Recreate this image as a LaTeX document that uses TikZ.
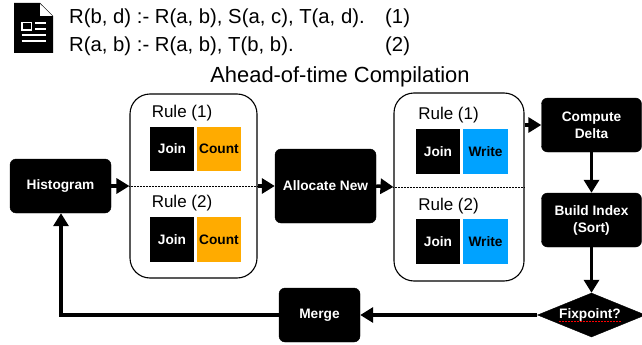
\documentclass[tikz,border=0pt]{standalone}
\usepackage{fontspec}
\setmainfont{Liberation Sans}
\usetikzlibrary{arrows.meta,shapes.geometric}
\tikzset{
    stepbox/.style={draw=black,fill=black,rectangle,rounded corners=6pt,text=white,align=center,inner sep=0pt,font=\fontsize{13.7}{17}\selectfont\bfseries},
    joinbox/.style={fill=black,rectangle,minimum size=44.5pt,inner sep=0pt,text=white,font=\fontsize{13.7}{16}\selectfont\bfseries},
    countbox/.style={joinbox,fill=countorange,text=black},
    writebox/.style={joinbox,fill=writeblue,text=black},
    rulebox/.style={draw=black,line width=1.1pt,rectangle,rounded corners=20pt,inner sep=0pt},
    flow/.style={line width=3.5pt,-{Triangle[length=13pt,width=15pt]}},
    ruletext/.style={font=\fontsize{17}{20}\selectfont},
    datalog/.style={anchor=base west,inner sep=0pt,font=\fontsize{20.3}{24}\selectfont},
}
\definecolor{countorange}{HTML}{FFAB00}
\definecolor{writeblue}{HTML}{00A2FF}
\begin{document}
\begin{tikzpicture}[x=1pt,y=-1pt]
        \useasboundingbox (0,0) rectangle (642,345);
        %% Document icon
        \fill (14,3) -- (40,3) -- (53,16) -- (53,53) -- (14,53) -- cycle;
        \fill[white] (40,3.8) -- (40,16) -- (52.5,16) -- cycle;
        \draw[white,line width=1.3pt] (22,22.5) rectangle (31.5,30);
        \draw[white,line width=1.6pt] (35,23) -- (46,23);
        \draw[white,line width=1.6pt] (35,29) -- (46,29);
        \draw[white,line width=1.6pt] (21.5,35) -- (46,35);
        \draw[white,line width=1.6pt] (21.5,41) -- (46,41);
        %% Rules and title
        \node[datalog] (L1) at (69,24) {R(b, d) :- R(a, b), S(a, c), T(a, d).};
        \node[datalog] (N1) at (385,24) {(1)};
        \node[datalog] (L2) at (69,52) {R(a, b) :- R(a, b), T(b, b).};
        \node[datalog] (N2) at (385,52) {(2)};
        \node[font=\fontsize{21.9}{24}\selectfont,inner sep=0pt] (Title) at (340,77) {Ahead-of-time Compilation};
        %% Nodes
        \node[stepbox,minimum width=101pt,minimum height=54pt] (Histogram) at (60.5,186) {Histogram};
        \node[rulebox,minimum width=127pt,minimum height=184pt] (CountRules) at (193.5,186) {};
        \node[stepbox,minimum width=101pt,minimum height=74pt] (Allocate) at (325.5,186) {Allocate New};
        \node[rulebox,minimum width=130pt,minimum height=188pt] (WriteRules) at (459,187) {};
        \node[stepbox,minimum width=100pt,minimum height=54pt] (Delta) at (591.5,125) {Compute\\Delta};
        \node[stepbox,minimum width=100pt,minimum height=54pt] (Index) at (591.5,220) {Build Index\\(Sort)};
        \node[draw=black,fill=black,diamond,aspect=2.39,inner sep=0pt,minimum width=108pt,minimum height=44pt] (Fixpoint) at (591.5,315) {};
        \node[text=white,inner sep=0pt,font=\fontsize{13.7}{16}\selectfont\bfseries] (FixpointText) at (590,315) {Fixpoint?};
        \node[stepbox,minimum width=81pt,minimum height=54pt] (Merge) at (319.5,315) {Merge};
        \coordinate (Corner) at (61,315);
        %% Rule boxes
        \node[ruletext] (RuleA) at (182,113) {Rule (1)};
        \node[joinbox] (JoinA) at (172,149) {Join};
        \node[countbox] (CountA) at (219,149) {Count};
        \node[ruletext] (RuleB) at (182,203) {Rule (2)};
        \node[joinbox] (JoinB) at (172,239.5) {Join};
        \node[countbox] (CountB) at (219,239.5) {Count};
        \node[ruletext] (RuleC) at (448.5,115) {Rule (1)};
        \node[joinbox] (JoinC) at (438,151.5) {Join};
        \node[writebox] (WriteC) at (485.5,151.5) {Write};
        \node[ruletext] (RuleD) at (448.5,206) {Rule (2)};
        \node[joinbox] (JoinD) at (438,241.5) {Join};
        \node[writebox] (WriteD) at (485.5,241.5) {Write};
        %% Lines
        \draw[densely dotted,line width=0.5pt] (CountRules.west) -- (CountRules.east);
        \draw[densely dotted,line width=0.5pt] (WriteRules.west) -- (WriteRules.east);
        \draw[red,densely dotted,line width=0.5pt] (FixpointText.south west) -- (FixpointText.south east);
        \draw[flow] (Histogram.east) -- (CountRules.west);
        \draw[flow] (CountRules.east) -- (Allocate.west);
        \draw[flow] (Allocate.east) -- (WriteRules.west);
        \draw[flow] (WriteRules.east |- Delta.west) -- (Delta.west);
        \draw[flow] (Delta.south) -- (Index.north);
        \draw[flow] (Index.south) -- (Fixpoint.north);
        \draw[flow] (Fixpoint.west) -- (Merge.east);
        \draw[flow] (Merge.west) -- (Corner) -- (Histogram.south -| Corner);
    \end{tikzpicture}
\end{document}
